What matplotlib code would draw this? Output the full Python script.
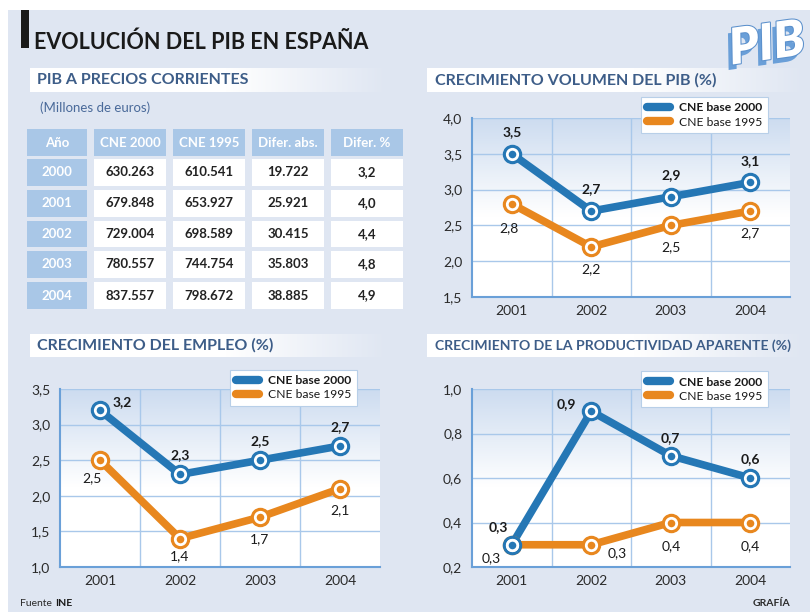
import numpy as np
import matplotlib
matplotlib.use('Agg')
from matplotlib import pyplot as plt
import matplotlib.patches as mpatches
import matplotlib.patheffects as pe
from matplotlib.lines import Line2D
from matplotlib.ticker import FuncFormatter, FixedLocator

plt.rcParams['font.family'] = ['Lato', 'DejaVu Sans']

# ---- data ----
table_cols = ['Año', 'CNE 2000', 'CNE 1995', 'Difer. abs.', 'Difer. %']
table_years = ['2000', '2001', '2002', '2003', '2004']
cne2000_eur = ['630.263', '679.848', '729.004', '780.557', '837.557']
cne1995_eur = ['610.541', '653.927', '698.589', '744.754', '798.672']
difer_abs = ['19.722', '25.921', '30.415', '35.803', '38.885']
difer_pct = ['3,2', '4,0', '4,4', '4,8', '4,9']

years = [2001, 2002, 2003, 2004]
vol_2000 = [3.5, 2.7, 2.9, 3.1]
vol_1995 = [2.8, 2.2, 2.5, 2.7]
emp_2000 = [3.2, 2.3, 2.5, 2.7]
emp_1995 = [2.5, 1.4, 1.7, 2.1]
prod_2000 = [0.3, 0.9, 0.7, 0.6]
prod_1995 = [0.3, 0.3, 0.4, 0.4]

BG = '#dfe6f2'
BLUE = '#2577b5'
ORANGE = '#e8871e'
HEAD = '#3d5d88'
CELL = '#a9c7e7'
W, H = 810, 612

fig = plt.figure(figsize=(8.1, 6.12), dpi=100)
fig.patch.set_facecolor('white')


def fx(x):
    return x / W


def fy(y):
    return 1 - y / H


def rect(x0, y0, x1, y1, **kw):
    fig.patches.append(mpatches.Rectangle((fx(x0), fy(y1)), fx(x1 - x0), (y1 - y0) / H,
                                          transform=fig.transFigure, **kw))


def comma(v, pos=None, fmt='{:.1f}'):
    return fmt.format(v).replace('.', ',')


# background panel
rect(8, 10, W, H, facecolor=BG, edgecolor='none', zorder=-5)

# main title
rect(21, 10, 29, 48, facecolor='#1a1a1a', edgecolor='none', zorder=1)
fig.text(fx(34), fy(49), 'EVOLUCIÓN DEL PIB EN ESPAÑA', fontsize=15.5, color='#1a1a1a',
         fontweight='bold', va='baseline', ha='left')

# PIB logo
fig.text(fx(767), fy(45), 'PIB', fontsize=36, fontweight='heavy', color='white',
         ha='center', va='center', rotation=8, style='italic',
         path_effects=[pe.withSimplePatchShadow(offset=(-3, -4), shadow_rgbFace='#6a9fd8', alpha=1),
                       pe.Stroke(linewidth=1.5, foreground='#5b90cc'), pe.Normal()])


def header(x0, y0, x1, y1, text, size=11.5):
    hax = fig.add_axes([fx(x0), fy(y1), fx(x1 - x0), (y1 - y0) / H])
    hax.set_zorder(2)
    grad = np.ones((1, 256, 4))
    alpha = np.clip((1 - np.linspace(0, 1, 256)) / 0.45, 0, 1)
    grad[0, :, 3] = alpha
    hax.imshow(grad, aspect='auto', extent=(0, 1, 0, 1))
    hax.set_axis_off()
    hax.text(0.02, 0.5, text, transform=hax.transAxes, fontsize=size, fontweight='bold',
             color=HEAD, va='center', ha='left', clip_on=False)


header(30, 68, 388, 92, 'PIB A PRECIOS CORRIENTES')
header(427, 68, 805, 92, 'CRECIMIENTO VOLUMEN DEL PIB (%)')
header(30, 334, 388, 357, 'CRECIMIENTO DEL EMPLEO (%)')
header(427, 334, 805, 357, 'CRECIMIENTO DE LA PRODUCTIVIDAD APARENTE (%)', size=10.1)

fig.text(fx(40), fy(108), '(Millones de euros)', fontsize=9.5, color='#4a6a9a',
         ha='left', va='center')

# ---- table ----
col_x = [(27, 87), (94, 166), (173, 245), (252, 324), (331, 403)]
row_y = [(129, 156), (159, 186), (190, 217), (221, 247), (251, 278), (282, 309)]
for (x0, x1), name in zip(col_x, table_cols):
    y0, y1 = row_y[0]
    rect(x0, y0, x1, y1, facecolor=CELL, edgecolor='none', zorder=1)
    fig.text(fx((x0 + x1) / 2), fy((y0 + y1) / 2), name, fontsize=9.5, fontweight='bold',
             color='white', ha='center', va='center')
rows = list(zip(table_years, cne2000_eur, cne1995_eur, difer_abs, difer_pct))
for (y0, y1), row in zip(row_y[1:], rows):
    for ci, ((x0, x1), val) in enumerate(zip(col_x, row)):
        rect(x0, y0, x1, y1, facecolor=CELL if ci == 0 else 'white', edgecolor='none', zorder=1)
        fig.text(fx((x0 + x1) / 2), fy((y0 + y1) / 2), val, fontsize=9.5, fontweight='bold',
                 color='white' if ci == 0 else '#222222', ha='center', va='center')


# ---- line charts ----
def chart(box, s2000, s1995, ylim, step, off2000, off1995, leg_anchor):
    x0, y0, x1, y1 = box
    ax = fig.add_axes([fx(x0), fy(y1), fx(x1 - x0), (y1 - y0) / H])
    ax.set_zorder(3)
    ax.set_xlim(2000.5, 2004.5)
    ax.set_ylim(*ylim)
    ax.set_facecolor('white')

    grad = np.ones((256, 1, 3))
    t = np.linspace(1, 0, 256)  # top -> bottom
    k = np.clip((t - 0.45) / 0.55, 0, 1)[:, None]
    top = np.array([0.80, 0.86, 0.94])
    grad[:, 0, :] = 1 - k * (1 - top)
    ax.imshow(grad, aspect='auto', extent=(2000.5, 2004.5, ylim[0], ylim[1]), zorder=0)

    ax.yaxis.set_major_locator(FixedLocator(np.arange(ylim[0], ylim[1] + step / 2, step)))
    ax.xaxis.set_major_locator(FixedLocator(years))
    ax.xaxis.set_minor_locator(FixedLocator([2001.5, 2002.5, 2003.5]))
    ax.yaxis.set_major_formatter(FuncFormatter(comma))
    ax.xaxis.set_major_formatter(FuncFormatter(lambda v, p: str(int(round(v)))))
    ax.grid(axis='y', which='major', color='#a9c8ea', lw=1, zorder=1)
    ax.grid(axis='x', which='minor', color='#a9c8ea', lw=1, zorder=1)
    ax.tick_params(which='both', length=0, labelsize=10, colors='#2a2a2a')
    ax.tick_params(axis='y', pad=7)
    ax.tick_params(axis='x', pad=6)
    for s in ['top', 'right']:
        ax.spines[s].set_visible(False)
    for s in ['left', 'bottom']:
        ax.spines[s].set_color('#6aa0d8')
        ax.spines[s].set_linewidth(1.5)
    ax.set_axisbelow(True)

    for vals, col, offs, bold in [(s1995, ORANGE, off1995, False), (s2000, BLUE, off2000, True)]:
        ax.plot(years, vals, color=col, lw=5.5, solid_capstyle='round', zorder=3, clip_on=False)
        ax.plot(years, vals, 'o', ms=13, mfc=col, mec=col, zorder=4, clip_on=False)
        ax.plot(years, vals, 'o', ms=7.5, mfc=col, mec='white', mew=2, zorder=5, clip_on=False)
        for xv, yv, (dx, dy) in zip(years, vals, offs):
            ax.annotate(comma(yv), (xv, yv), xytext=(dx * 0.72, -dy * 0.72),
                        textcoords='offset points', ha='center', va='center',
                        fontsize=10, fontweight='bold' if bold else 'normal',
                        color='#1a1a1a', zorder=6)

    handles = [Line2D([], [], color=BLUE, lw=6, solid_capstyle='round'),
               Line2D([], [], color=ORANGE, lw=6, solid_capstyle='round')]
    leg = ax.legend(handles, ['CNE base 2000', 'CNE base 1995'], loc='upper right',
                    bbox_to_anchor=leg_anchor, fontsize=8.7, fancybox=False, framealpha=1,
                    edgecolor='#b8cfe8', handlelength=1.9, handletextpad=0.8,
                    borderpad=0.45, labelspacing=0.25, borderaxespad=0)
    leg.get_frame().set_linewidth(0.8)
    leg.set_zorder(10)
    leg.get_texts()[0].set_fontweight('bold')
    for tx in leg.get_texts():
        tx.set_color('#1a1a1a')
    return ax


chart((472, 118, 790, 297), vol_2000, vol_1995, (1.5, 4.0), 0.5,
      [(0, -22), (0, -22), (0, -22), (0, -21)],
      [(-3, 24), (0, 22), (0, 22), (0, 22)], (0.931, 1.117))
chart((60, 389, 380, 567), emp_2000, emp_1995, (1.0, 3.5), 0.5,
      [(22, -8), (0, -19), (0, -19), (0, -19)],
      [(-8, 18), (0, 18), (-1, 22), (0, 21)], (0.928, 1.107))
chart((472, 389, 790, 567), prod_2000, prod_1995, (0.2, 1.0), 0.2,
      [(-13, -18), (-25, -7), (0, -18), (0, -19)],
      [(-21, 13), (26, 8), (0, 24), (0, 24)], (0.931, 1.10))

# footer
fig.text(fx(20), fy(604), 'Fuente', fontsize=7.5, color='#2a2a2a', ha='left', va='center')
fig.text(fx(55), fy(604), 'INE', fontsize=7.5, fontweight='bold', color='#1a1a1a', ha='left', va='center')
fig.text(fx(790), fy(604), 'GRAFÍA', fontsize=7.5, fontweight='bold', color='#2a2a2a',
         ha='right', va='center')

fig.savefig('out.png', dpi=100, facecolor=fig.get_facecolor())
